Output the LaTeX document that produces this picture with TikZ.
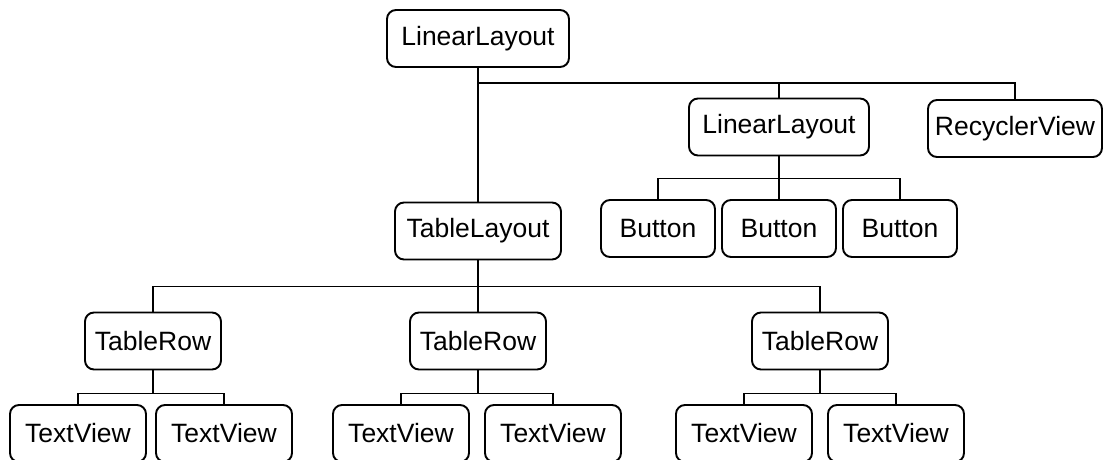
\documentclass[tikz,border=0pt]{standalone}
\usepackage{fontspec}
\setmainfont{Liberation Sans}
\usepackage{tikz}
\usetikzlibrary{positioning}
\tikzset{
    view/.style={rectangle, rounded corners=9pt, minimum width=#1, minimum height=57pt, inner sep=0pt, text centered, draw=black, line width=1.9pt, font=\fontsize{26.5}{30}\selectfont},
    view/.default=136pt,
    link/.style={line width=1.9pt}
}

\begin{document}
\begin{tikzpicture}[x=1pt, y=1pt, node distance=100pt]
    \useasboundingbox (0,0) rectangle (1103,-460);
    \node (root) [view=182pt] at (478,-38.5) {LinearLayout};
    \node (ll) [view=180pt, below of=root, xshift=301pt, yshift=11.5pt] {LinearLayout};
    \node (recycler) [view=174pt, right of=ll, xshift=136pt, yshift=-1.5pt] {RecyclerView};
    \node (btnb) [view=114pt, below of=ll, yshift=-1.5pt] {Button};
    \node (btna) [view=114pt, left of=btnb, xshift=-21pt] {Button};
    \node (btnc) [view=114pt, right of=btnb, xshift=21pt] {Button};
    \node (table) [view=166pt, below of=root, yshift=-92.5pt] {TableLayout};
    \node (rowb) [view, below of=table, yshift=-10pt] {TableRow};
    \node (rowa) [view, left of=rowb, xshift=-225pt] {TableRow};
    \node (rowc) [view, right of=rowb, xshift=242pt] {TableRow};
    \node (tva) [view, below of=rowa, xshift=-75pt, yshift=7.5pt] {TextView};
    \node (tvb) [view, below of=rowa, xshift=71pt, yshift=7.5pt] {TextView};
    \node (tvc) [view, below of=rowb, xshift=-77pt, yshift=7.5pt] {TextView};
    \node (tvd) [view, below of=rowb, xshift=75pt, yshift=7.5pt] {TextView};
    \node (tve) [view, below of=rowc, xshift=-76pt, yshift=7.5pt] {TextView};
    \node (tvf) [view, below of=rowc, xshift=76pt, yshift=7.5pt] {TextView};

    % bus lines under each parent
    \coordinate (rootbus) at ([yshift=-15pt]root.south);
    \coordinate (llbus) at ([yshift=-22pt]ll.south);
    \coordinate (tablebus) at ([yshift=-26pt]table.south);
    \coordinate (rowabus) at ([yshift=-23pt]rowa.south);
    \coordinate (rowbbus) at ([yshift=-23pt]rowb.south);
    \coordinate (rowcbus) at ([yshift=-23pt]rowc.south);

    \draw [link] (root) -- (table);
    \draw [link] (rootbus) -| (ll);
    \draw [link] (rootbus) -| (recycler);
    \draw [link] (ll) -- (btnb);
    \draw [link] (llbus) -| (btna);
    \draw [link] (llbus) -| (btnc);
    \draw [link] (table) -- (rowb);
    \draw [link] (tablebus) -| (rowa);
    \draw [link] (tablebus) -| (rowc);
    \draw [link] (rowa) -- (rowabus);
    \draw [link] (rowabus) -| (tva);
    \draw [link] (rowabus) -| (tvb);
    \draw [link] (rowb) -- (rowbbus);
    \draw [link] (rowbbus) -| (tvc);
    \draw [link] (rowbbus) -| (tvd);
    \draw [link] (rowc) -- (rowcbus);
    \draw [link] (rowcbus) -| (tve);
    \draw [link] (rowcbus) -| (tvf);
\end{tikzpicture}
\end{document}
